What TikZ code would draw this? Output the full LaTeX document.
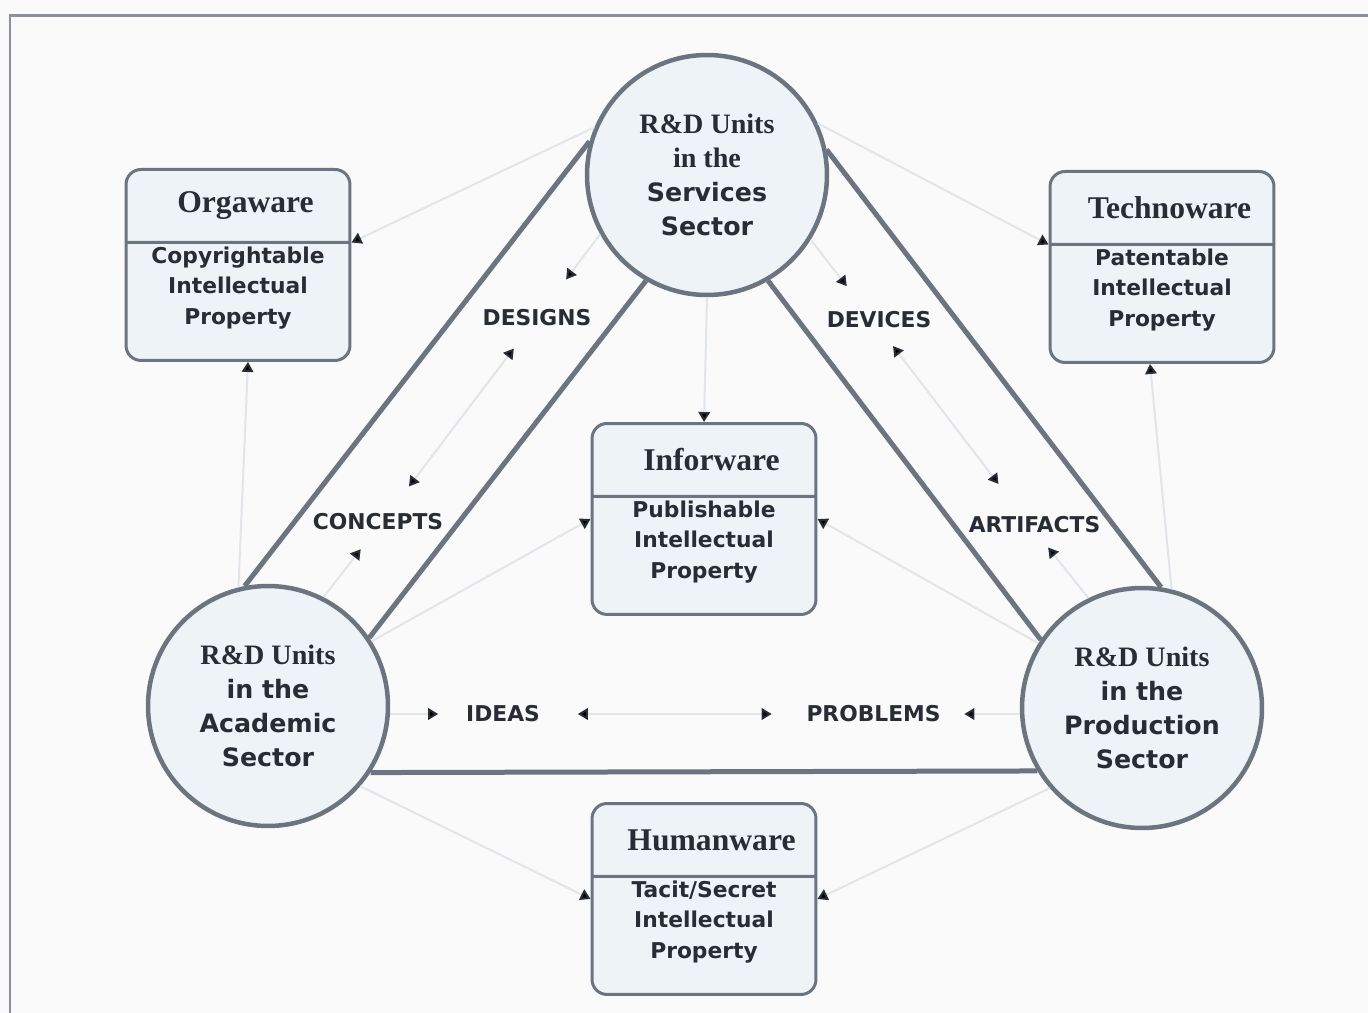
\documentclass[tikz,border=0pt]{standalone}
\usepackage{fontspec}
\setmainfont{Liberation Serif}
\setsansfont{DejaVu Sans}
\usetikzlibrary{positioning}
\usetikzlibrary{arrows.meta,shapes.multipart}

\definecolor{paper}{RGB}{250,250,250}
\definecolor{unitfill}{RGB}{238,243,248}
\definecolor{rim}{RGB}{108,116,128}
\definecolor{frameline}{RGB}{140,145,153}
\definecolor{faint}{RGB}{226,229,233}
\definecolor{ink}{RGB}{40,44,52}

\newcommand{\unitsf}{\fontsize{14.4}{19.5}\selectfont\sffamily\bfseries}
\newcommand{\unitrm}{\fontsize{16}{19.5}\selectfont\rmfamily\bfseries}
\newcommand{\flowsf}{\fontsize{12.4}{15}\selectfont\sffamily\bfseries}
\newcommand{\wtitle}[1]{\parbox[b][1cm][c]{4.08cm}{\centering\fontsize{18}{22}\selectfont\rmfamily\bfseries\hspace*{0.3cm}#1}}
\newcommand{\wbody}[1]{\parbox[b][1.9cm][t]{4.08cm}{\vspace*{-0.15cm}\centering\fontsize{12.4}{17.4}\selectfont\sffamily\bfseries #1}}

\begin{document}
\begin{tikzpicture}[x=0.02cm,y=-0.02cm,
  unit/.style={circle,draw=rim,line width=0.09cm,fill=unitfill,minimum size=4.8cm,inner sep=0pt,align=center,text=ink,font=\unitsf},
  ware/.style={rectangle split,rectangle split parts=2,draw=rim,line width=0.06cm,fill=unitfill,rounded corners=0.3cm,inner xsep=0.2cm,inner ysep=0.2cm,text=ink,anchor=north},
  flow/.style={circle,inner sep=0pt,minimum size=#1},
  every label/.style={text=ink,font=\flowsf,inner sep=0pt},
  wall/.style={draw=rim,line width=0.1cm},
  link/.style={draw=faint,line width=0.04cm},
  >={Triangle[length=0.2cm,width=0.23cm,color=ink]}]
\useasboundingbox (0,0) rectangle (1368,1013);
\fill[paper] (0,0) rectangle (1368,1013);
\draw[frameline,line width=0.06cm] (10,1013) -- (10,16) -- (1368,16);

% the three sectors
\node[unit] (serv) at (707,175) {{\unitrm R\&D Units}\\{\unitrm in the}\\Services\\Sector};
\node[unit] (acad) at (268,706) {{\unitrm R\&D Units}\\in the\\Academic\\Sector};
\node[unit] (prod) at (1142,708) {{\unitrm R\&D Units}\\in the\\Production\\Sector};

% the four wares
\node[ware] (org) at (238,168) {\wtitle{Orgaware}\nodepart{two}\wbody{Copyrightable\\Intellectual\\Property}};
\node[ware] (tech) at (1162,170) {\wtitle{Technoware}\nodepart{two}\wbody{Patentable\\Intellectual\\Property}};
\node[ware] (info) at (704,422) {\wtitle{Inforware}\nodepart{two}\wbody{Publishable\\Intellectual\\Property}};
\node[ware] (hum) at (704,802) {\wtitle{Humanware}\nodepart{two}\wbody{Tacit/Secret\\Intellectual\\Property}};

% flows between the sectors
\node[flow=1.72cm,label={[xshift=-0.06cm,yshift=-0.08cm]center:DESIGNS}] (designs) at (540,314) {};
\node[flow=1.57cm,label={[xshift=-0.14cm,yshift=-0.08cm]center:CONCEPTS}] (concepts) at (385,518) {};
\node[flow=1.5cm,label={[xshift=0.18cm,yshift=-0.07cm]center:DEVICES}] (devices) at (870,316) {};
\node[flow=1.6cm,label={[xshift=0.23cm,yshift=-0.17cm]center:ARTIFACTS}] (artifacts) at (1023,516) {};
\node[flow=2.78cm,label={[xshift=-0.1cm]center:IDEAS}] (ideas) at (508,714) {};
\node[flow=3.84cm,label={[xshift=0.11cm]center:PROBLEMS}] (problems) at (868,714) {};

% channel walls
\draw[wall] (serv.164) -- (acad.101);
\draw[wall] (serv.240) -- (acad.34);
\draw[wall] (serv.12) -- (prod.81);
\draw[wall] (serv.300) -- (prod.146);
\draw[wall] (acad.-33) -- (prod.211.9);

% links to the wares
\draw[link,->] (serv.157) -- (org.text split east);
\draw[link,->] (acad.104) -- ([xshift=0.2cm]org.south);
\draw[link,->] (serv.25) -- (tech.text split west);
\draw[link,->] (prod.76) -- ([xshift=-0.24cm]tech.south);
\draw[link,->] (serv.south) -- (info.north);
\draw[link,->] (acad.32) -- (info.west);
\draw[link,->] (prod.148) -- (info.east);
\draw[link,->] (acad.-41) -- (hum.west);
\draw[link,->] (prod.221) -- (hum.east);

% links through the channels
\draw[link,->] (acad.63) -- (concepts);
\draw[link,<->] (concepts) -- (designs);
\draw[link,<-] (designs) -- (serv.209);
\draw[link,->] (serv.-32) -- (devices);
\draw[link,<->] (devices) -- (artifacts);
\draw[link,<-] (artifacts) -- (prod.116);
\draw[link,->] (ideas -| acad.east) -- (ideas);
\draw[link,<->] (ideas) -- (problems);
\draw[link,<-] (problems) -- (problems -| prod.west);
\end{tikzpicture}
\end{document}
